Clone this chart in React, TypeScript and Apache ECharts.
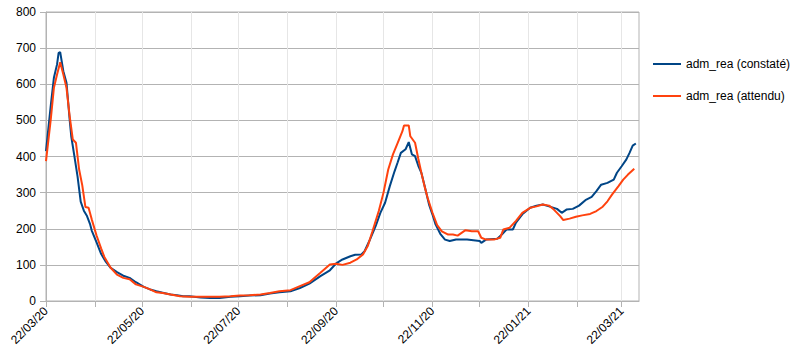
import React, { useEffect, useRef } from 'react';
import * as echarts from 'echarts';

// Axis scaffolding
const START_UTC = Date.UTC(2020, 2, 22);
const DAY_COUNT = 377; // 22/03/20 .. 02/04/21
const tickLabels = ['22/03/20', '22/05/20', '22/07/20', '22/09/20', '22/11/20', '22/01/21', '22/03/21'];
const yMin = 0;
const yMax = 800;
const yStep = 100;

const seriesNames = ['adm_rea (constaté)', 'adm_rea (attendu)'];

// Values (day offset from 22/03/20, value)
const constateDays = [
  0, 3, 5, 7, 8, 9, 11, 13, 15, 16, 18, 20, 22, 24, 26, 28, 29, 32, 35, 38, 41, 45, 49, 53, 57, 62, 66, 70, 74, 79, 83, 87, 91,
  98, 104, 110, 117, 123, 129, 136, 142, 148, 155, 161, 167, 174, 180, 184, 188, 193, 196, 200, 202, 205, 209, 212, 215, 218,
  221, 223, 225, 228, 230, 232, 234, 236, 238, 240, 243, 245, 247, 250, 253, 256, 260, 267, 271, 275, 276, 279, 286, 289, 292,
  296, 298, 302, 307, 311, 315, 319, 324, 327, 330, 334, 338, 342, 346, 349, 352, 356, 360, 362, 365, 368, 370, 372, 374,
];
const constateValues = [
  415, 540, 618, 655, 687, 689, 636, 604, 502, 456, 401, 345, 275, 250, 235, 212, 195, 163, 130, 108, 92, 80, 70, 64, 52, 39, 32, 27, 23, 18, 16, 13, 13,
  10, 8, 8, 12, 13, 15, 16, 21, 24, 27, 36, 48, 69, 85, 104, 115, 124, 128, 129, 138, 166, 207, 244, 272, 318,
  359, 384, 410, 420, 440, 406, 401, 375, 355, 320, 265, 240, 212, 186, 170, 166, 170, 170, 168, 166, 161, 170, 172, 184, 198,
  198, 217, 240, 258, 264, 267, 262, 255, 244, 253, 255, 264, 279, 288, 304, 322, 327, 336, 355, 373, 392, 410, 430, 436,
];

const attenduDays = [
  0, 3, 5, 7, 9, 11, 13, 15, 17, 19, 21, 23, 25, 27, 29, 32, 35, 37, 41, 45, 49, 53, 57, 62, 66, 70, 74, 79, 85, 91,
  98, 104, 110, 117, 123, 129, 136, 142, 148, 155, 161, 167, 174, 180, 184, 188, 193, 197, 201, 204, 207, 211, 214, 217,
  220, 223, 226, 227, 230, 231, 234, 236, 238, 240, 242, 245, 248, 251, 255, 258, 261, 266, 270, 274, 276, 279, 284, 288,
  290, 294, 298, 302, 307, 311, 315, 319, 322, 326, 328, 332, 336, 340, 345, 349, 353, 356, 359, 363, 366, 369, 373,
];
const attenduValues = [
  387, 502, 590, 627, 661, 627, 590, 512, 447, 438, 364, 320, 260, 258, 226, 182, 145, 122, 92, 73, 64, 60, 46, 39, 32, 24, 22, 18, 13, 12,
  12, 12, 12, 13, 15, 16, 18, 22, 27, 30, 41, 52, 78, 101, 103, 100, 106, 115, 129, 152, 193, 249, 300, 364,
  406, 438, 470, 486, 486, 456, 438, 395, 355, 318, 285, 245, 210, 193, 184, 184, 181, 196, 193, 193, 175, 170, 170, 175,
  198, 203, 222, 244, 258, 262, 267, 264, 253, 235, 224, 228, 233, 237, 241, 249, 261, 276, 295, 318, 336, 350, 366,
];

const seriesColors = ['#004586', '#ff420e'];

function fmtDay(i: number): string {
  const d = new Date(START_UTC + i * 86400000);
  const dd = String(d.getUTCDate()).padStart(2, '0');
  const mm = String(d.getUTCMonth() + 1).padStart(2, '0');
  const yy = String(d.getUTCFullYear() % 100).padStart(2, '0');
  return `${dd}/${mm}/${yy}`;
}

const categories = Array.from({ length: DAY_COUNT }, (_, i) => fmtDay(i));

const isMonthTick = (_idx: number, val: string) => typeof val === 'string' && val.startsWith('22/');
const isLabelTick = (_idx: number, val: string) => tickLabels.indexOf(val) >= 0;

export default function App() {
  const ref = useRef<HTMLDivElement>(null);
  useEffect(() => {
    document.body.style.margin = '0';
    if (!ref.current) return;
    const chart = echarts.init(ref.current, null, { renderer: 'svg' });
    const grid = '#b3b3b3';
    chart.setOption({
      animation: false,
      textStyle: { fontFamily: '"Liberation Sans", Arial, sans-serif' },
      grid: { left: 46, right: 157, top: 12, bottom: 59, show: true, borderColor: grid, borderWidth: 1, backgroundColor: 'transparent' },
      legend: {
        orient: 'vertical',
        left: 648,
        top: 52,
        icon: 'rect',
        itemWidth: 28,
        itemHeight: 2,
        itemGap: 18,
        textStyle: { fontSize: 12, color: '#000', lineHeight: 14 },
        data: seriesNames,
      },
      xAxis: {
        type: 'category',
        data: categories,
        boundaryGap: false,
        axisLine: { lineStyle: { color: grid } },
        axisTick: { show: true, interval: isMonthTick, length: 6, lineStyle: { color: grid } },
        axisLabel: { interval: isLabelTick, rotate: 45, fontSize: 12, color: '#000', margin: 8 },
        splitLine: { show: true, interval: isMonthTick, lineStyle: { color: '#e6e6e6' } },
      },
      yAxis: {
        type: 'value',
        min: yMin,
        max: yMax,
        interval: yStep,
        axisLine: { show: true, lineStyle: { color: grid } },
        axisTick: { show: true, length: 6, lineStyle: { color: grid } },
        axisLabel: { fontSize: 12, color: '#000', margin: 10 },
        splitLine: { show: true, lineStyle: { color: grid } },
      },
      series: [
        {
          name: seriesNames[0],
          type: 'line',
          symbol: 'none',
          color: seriesColors[0],
          lineStyle: { width: 2, color: seriesColors[0] },
          data: constateDays.map((d, i) => [d, constateValues[i]]),
        },
        {
          name: seriesNames[1],
          type: 'line',
          symbol: 'none',
          color: seriesColors[1],
          lineStyle: { width: 2, color: seriesColors[1] },
          data: attenduDays.map((d, i) => [d, attenduValues[i]]),
        },
      ],
    });
    return () => chart.dispose();
  }, []);
  return <div ref={ref} style={{ width: 796, height: 360 }} />;
}
